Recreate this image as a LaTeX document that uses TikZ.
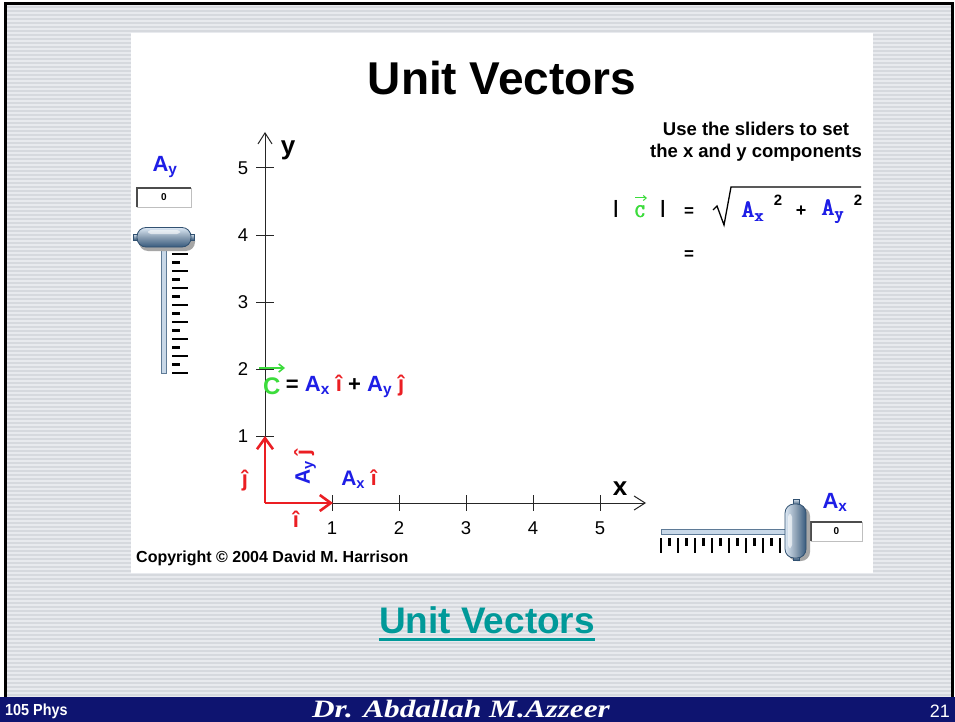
\documentclass[tikz,border=0pt]{standalone}
\usepackage{fontspec}
\setmainfont{Liberation Sans}
\newfontfamily\seriff{Liberation Serif}
\usepackage{graphicx}
\usetikzlibrary{arrows.meta,calc}
\definecolor{vblue}{RGB}{30,30,230}
\definecolor{vred}{RGB}{235,30,35}
\definecolor{vgreen}{RGB}{60,220,60}
\definecolor{vteal}{RGB}{0,153,153}
\definecolor{navyb}{RGB}{14,20,112}
\definecolor{bggray}{RGB}{232,234,238}
\definecolor{stripe}{RGB}{214,217,222}
\definecolor{knobdark}{RGB}{55,90,125}
\definecolor{knoblight}{RGB}{220,232,244}
\definecolor{trackc}{RGB}{200,216,232}
\newcommand{\fs}[1]{\fontsize{#1}{#1}\selectfont}
\newcommand{\pbold}[1]{\leavevmode\rlap{#1}\kern0.5pt\rlap{#1}\kern0.5pt#1}
\begin{document}
\begin{tikzpicture}[x=1pt,y=-1pt,
  lbl/.style={inner sep=0pt,anchor=center},
  axisst/.style={draw=black!85,line width=1pt},
  axarrow/.style={axisst,-{Straight Barb[length=11pt,width=14pt,line width=1pt]}},
  redarrow/.style={draw=vred,line width=2.6pt,-{Straight Barb[length=11pt,width=16pt,line width=2.6pt]}},
  tickst/.style={draw=black!85,line width=1pt},
  numlbl/.style={lbl,font=\fs{18.5}},
  sliderticks/.style={draw=black,line width=2.4pt},
  trackst/.style={draw=knobdark!80,fill=trackc,line width=0.8pt},
  knobst/.style={draw=knobdark!90!black,line width=0.8pt,top color=knoblight,bottom color=knobdark,middle color=knobdark!60!white},
  valbox/.style={draw=gray!50,fill=white,line width=0.8pt},
  bold/.style={lbl,font=\bfseries},
  monob/.style={lbl,font=\fs{25}\ttfamily,text=vblue},
  supst/.style={lbl,font=\fs{15}\bfseries}
]
\useasboundingbox (0,0) rectangle (955,722);
% slide background
\fill[white] (0,0) rectangle (955,722);
\fill[bggray] (6,5) rectangle (951,697);
\foreach \yy in {7,11,...,695} \draw[stripe,line width=1.4pt] (6,\yy) -- (951,\yy);
\draw[black,line width=3pt] (5,697) -- (5,4) -- (952,4) -- (952,697);
\fill[navyb] (0,697) rectangle (955,722);
% white panel
\fill[white] (131,33) rectangle (873,573);
% title
\node[lbl] (title) at (502,78) {\fs{46}\bfseries Unit Vectors};
% axes
\coordinate (O) at (265,503);
\coordinate (xe) at (646,503);
\coordinate (ye) at (265,132);
\draw[axarrow] (O) -- (xe);
\draw[axarrow] (O) -- (ye);
\foreach \i in {1,...,5}{
  \draw[tickst] (265+67*\i,495) -- (265+67*\i,511);
  \node[numlbl] (xl\i) at (265+67*\i,528) {\i};
  \draw[tickst] (256,503-67*\i) -- (274,503-67*\i);
  \node[numlbl] (yl\i) at (243,503-67*\i) {\i};
}
\node[bold,font=\fs{26}\bfseries] (xlab) at (620,489) {x};
\node[bold,font=\fs{26}\bfseries] (ylab) at (288,150) {y};
% unit vectors
\coordinate (ih) at (333,503);
\coordinate (jh) at (265,436);
\draw[redarrow] (O) -- (ih);
\draw[redarrow] (O) -- (jh);
\node[bold,font=\fs{22}\bfseries,text=vred] (ilab) at (296,519) {î};
\node[bold,font=\fs{22}\bfseries,text=vred] (jlab) at (245,481) {ĵ};
\node[bold,font=\fs{21}\bfseries,rotate=90] (aylab) at (305,467) {\textcolor{vblue}{A\textsubscript{y}} \textcolor{vred}{ĵ}};
\node[bold,font=\fs{21}\bfseries] (axlab) at (359,479) {\textcolor{vblue}{A\textsubscript{x}} \textcolor{vred}{î}};
% equation C = Ax i + Ay j
\node[bold,font=\fs{24}\bfseries,anchor=west,text=vgreen] (cC) at (263,386) {C};
\node[bold,font=\fs{22}\bfseries,anchor=west] (eqr) at ($(cC.east)+(5,0)$) {= \textcolor{vblue}{A\textsubscript{x}} \textcolor{vred}{î} + \textcolor{vblue}{A\textsubscript{y}} \textcolor{vred}{ĵ}};
\coordinate (ca1) at (259,368);
\coordinate (ca2) at (285,368);
\draw[vgreen,line width=1.6pt,-{Straight Barb[length=5pt,width=8pt,line width=1.6pt]}] (ca1) -- (ca2);
% instructions
\node[bold,font=\fs{18.5}\bfseries] (use1) at (756,129) {Use the sliders to set};
\node[bold,font=\fs{18.5}\bfseries] (use2) at (756,153) {the x and y components};
% magnitude formula
\node[bold,font=\fs{18}\bfseries] (bar1) at (616,209) {|};
\node[lbl,font=\fs{19}\ttfamily,text=vgreen] (cc2) at (640,212) {\pbold{C}};
\coordinate (cb1) at (635,198);
\coordinate (cb2) at (647,198);
\draw[vgreen,line width=1pt,-{Straight Barb[length=3pt,width=5pt,line width=1pt]}] (cb1) -- (cb2);
\node[bold,font=\fs{18}\bfseries] (bar2) at (663,209) {|};
\node[bold,font=\fs{17}\bfseries] (eq1) at (689,212) {=};
\coordinate (s0) at (713,210);
\coordinate (s1) at (717,206);
\coordinate (s2) at (724,225);
\coordinate (s3) at (731,187);
\coordinate (s4) at (861,187);
\draw[black,line width=1.3pt,line join=miter] (s0) -- (s1) -- (s2) -- (s3) -- (s4);
\node[monob,anchor=west] (ax2) at (741,212) {\pbold{A\textsubscript{x}}};
\node[supst] (p1) at (778,200) {2};
\node[bold,font=\fs{18}\bfseries] (plus) at (801,211) {+};
\node[monob,anchor=west] (ay2) at (821,212) {\pbold{A\textsubscript{y}}};
\node[supst] (p2) at (858,200) {2};
\node[bold,font=\fs{17}\bfseries] (eq2) at (689,255) {=};
% left slider (Ay)
\node[bold,font=\fs{22}\bfseries,text=vblue] (aytitle) at (165,167) {A\textsubscript{y}};
\node[valbox,minimum width=54pt,minimum height=19pt,inner sep=0pt] (aybox) at (164,197.5) {\fs{10}\bfseries 0};
\draw[black!70,line width=2pt] (aybox.south west) -- (aybox.north west) -- (aybox.north east);
\draw[trackst] (161,244) rectangle (166,373);
\foreach \i in {0,...,14}{
  \ifodd\i
    \draw[sliderticks] (172,254+8.5*\i) -- (180,254+8.5*\i);
  \else
    \draw[sliderticks] (172,254+8.5*\i) -- (188,254+8.5*\i);
  \fi
}
\fill[black!35,rounded corners=9pt] (139,232) rectangle (195,251);
\draw[knobst] (133,234) rectangle (139,240);
\draw[knobst] (188,234) rectangle (194,240);
\draw[knobst,rounded corners=9pt] (137,227.5) rectangle (191,247);
\fill[white,opacity=0.6,rounded corners=3pt] (148,230) rectangle (180,234);
% right slider (Ax)
\node[bold,font=\fs{22}\bfseries,text=vblue] (axtitle) at (835,502) {A\textsubscript{x}};
\node[valbox,minimum width=51pt,minimum height=19pt,inner sep=0pt] (axbox) at (836.5,531.5) {\fs{10}\bfseries 0};
\draw[black!70,line width=2pt] (axbox.south west) -- (axbox.north west) -- (axbox.north east);
\draw[trackst] (661,529) rectangle (788,534);
\foreach \i in {0,...,14}{
  \ifodd\i
    \draw[sliderticks] (661+8.5*\i,538) -- (661+8.5*\i,546);
  \else
    \draw[sliderticks] (661+8.5*\i,538) -- (661+8.5*\i,553);
  \fi
}
\fill[black!35,rounded corners=9pt] (788,507) rectangle (810,561);
\draw[knobst] (793,499) rectangle (799,505);
\draw[knobst] (793,554) rectangle (799,560);
\shade[left color=knoblight,right color=knobdark,middle color=knobdark!55!white,draw=knobdark!90!black,line width=0.8pt,rounded corners=9pt] (785,504) rectangle (806,558);
\fill[white,opacity=0.6,rounded corners=3pt] (788,514) rectangle (792,548);
% copyright
\node[bold,font=\fs{16}\bfseries,anchor=west] (copy) at (136,558) {Copyright © 2004 David M. Harrison};
% link
\node[bold,font=\fs{37}\bfseries,text=vteal] (link) at (487,620) {Unit Vectors};
\draw[vteal,line width=3pt] ($(link.south west)+(0,6)$) -- ($(link.south east)+(0,6)$);
% footer
\node[lbl,text=white,anchor=west] (f1) at (5,711) {\scalebox{0.9}[1]{\fs{16}\bfseries 105 Phys}};
\node[lbl,text=white] (f2) at (461,709) {\scalebox{1.25}[1]{\seriff\fs{25}\bfseries\itshape Dr. Abdallah M.Azzeer}};
\node[lbl,font=\fs{18},text=white,anchor=east] (f3) at (950,711) {21};
\end{tikzpicture}
\end{document}
